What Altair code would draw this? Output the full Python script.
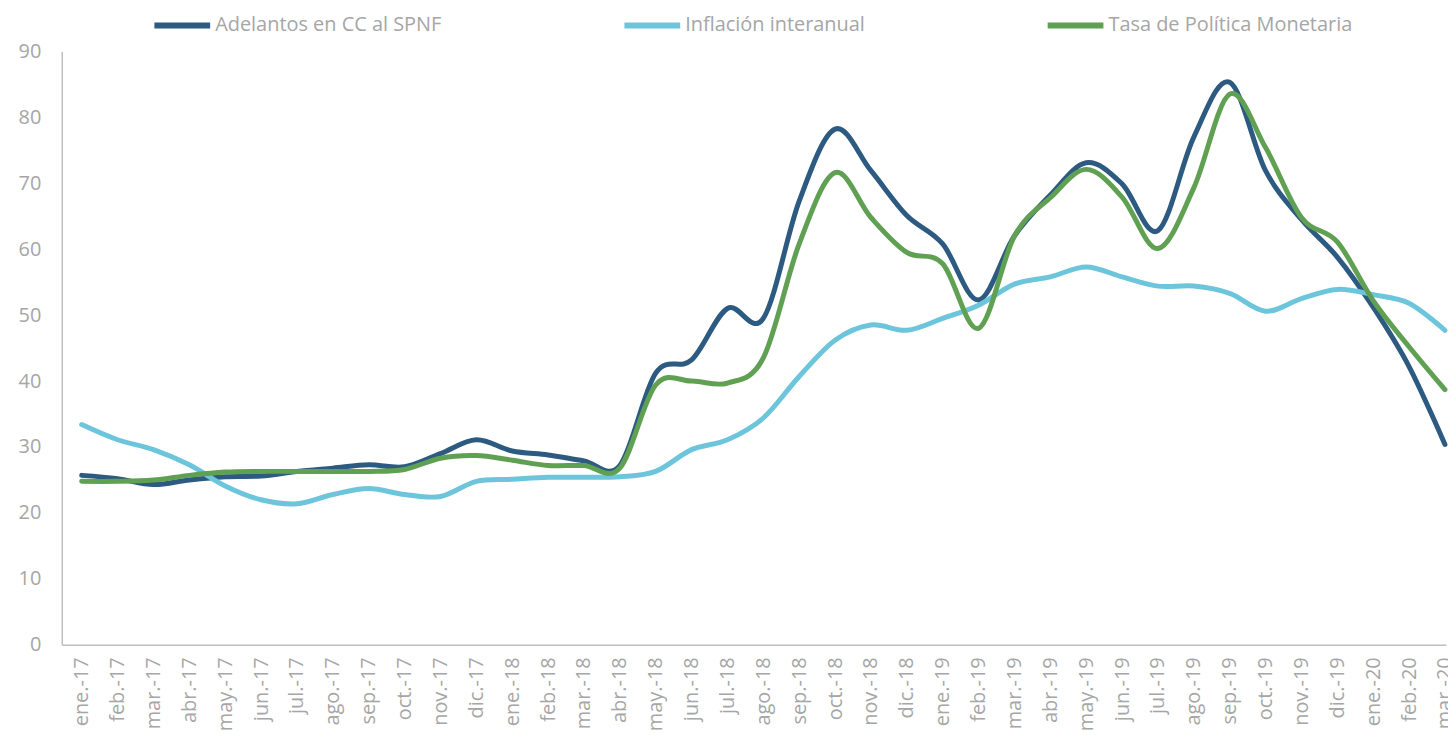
import altair as alt
import pandas as pd

meses = ["ene.-17", "feb.-17", "mar.-17", "abr.-17", "may.-17", "jun.-17", "jul.-17", "ago.-17",
         "sep.-17", "oct.-17", "nov.-17", "dic.-17",
         "ene.-18", "feb.-18", "mar.-18", "abr.-18", "may.-18", "jun.-18", "jul.-18", "ago.-18",
         "sep.-18", "oct.-18", "nov.-18", "dic.-18",
         "ene.-19", "feb.-19", "mar.-19", "abr.-19", "may.-19", "jun.-19", "jul.-19", "ago.-19",
         "sep.-19", "oct.-19", "nov.-19", "dic.-19",
         "ene.-20", "feb.-20", "mar.-20"]

adelantos = [25.7, 25.2, 24.3, 25.0, 25.5, 25.6, 26.3, 26.8, 27.3, 27.0, 29.0, 31.1,
             29.4, 28.8, 27.9, 27.2, 41.2, 43.2, 51.0, 49.5, 67.3, 78.2, 71.9, 65.1,
             60.8, 52.3, 62.0, 68.2, 73.1, 69.9, 62.8, 77.0, 85.3, 71.9, 64.5, 58.8,
             51.2, 42.2, 30.4]

inflacion = [33.4, 31.1, 29.6, 27.3, 24.1, 22.0, 21.4, 22.8, 23.7, 22.8, 22.5, 24.8,
             25.1, 25.4, 25.4, 25.5, 26.3, 29.6, 31.1, 34.4, 40.7, 46.2, 48.5, 47.7,
             49.5, 51.5, 54.7, 55.8, 57.3, 55.8, 54.4, 54.4, 53.3, 50.6, 52.5, 53.9,
             53.1, 51.8, 47.7]

tasa = [24.8, 24.8, 25.0, 25.7, 26.2, 26.3, 26.3, 26.3, 26.3, 26.6, 28.3, 28.7,
        28.0, 27.2, 27.2, 26.8, 39.4, 40.0, 39.7, 43.5, 60.8, 71.6, 64.8, 59.5,
        57.8, 48.0, 62.0, 67.8, 72.1, 67.9, 60.1, 69.3, 83.5, 75.4, 64.8, 61.1,
        52.2, 45.2, 38.7]

series = ["Adelantos en CC al SPNF", "Inflación interanual", "Tasa de Política Monetaria"]
colores = ["#2c5a80", "#6cc5db", "#60a052"]

rows = []
for nombre, valores in zip(series, [adelantos, inflacion, tasa]):
    for i, v in enumerate(valores):
        rows.append({"idx": i, "mes": meses[i], "serie": nombre, "valor": v})
df = pd.DataFrame(rows)

label_expr = "[" + ",".join("'" + m + "'" for m in meses) + "][datum.value]"
gris = "#a6a6a6"

chart = alt.Chart(df).mark_line(strokeWidth=5, interpolate="cardinal", strokeCap="round").encode(
    x=alt.X("idx:Q",
            scale=alt.Scale(domain=[-0.555, 38.03], nice=False, zero=False),
            axis=alt.Axis(title=None, values=list(range(len(meses))), labelExpr=label_expr,
                          labelAngle=270, labelPadding=12, labelOverlap=False, labelFlush=False,
                          ticks=False, grid=False, domainColor="#bfbfbf", domainWidth=1.5,
                          labelColor=gris, labelFontSize=20, labelFont="Open Sans")),
    y=alt.Y("valor:Q",
            scale=alt.Scale(domain=[0, 90], nice=False),
            axis=alt.Axis(title=None, values=list(range(0, 91, 10)), grid=False, ticks=False,
                          labelPadding=21, domainColor="#bfbfbf", domainWidth=1.5,
                          labelColor=gris, labelFontSize=20, labelFont="Open Sans")),
    color=alt.Color("serie:N",
                    scale=alt.Scale(domain=series, range=colores),
                    legend=alt.Legend(title=None, orient="none", legendX=90, legendY=-57,
                                      direction="horizontal", symbolType="stroke",
                                      symbolSize=3136, symbolStrokeWidth=6,
                                      labelFontSize=20, labelColor=gris, labelFont="Open Sans",
                                      columnPadding=171, labelOffset=2, labelLimit=500)),
    order=alt.Order("serie:N"),
).properties(
    width=1390, height=596,
    autosize=alt.AutoSizeParams(type="none"),
    padding={"left": 54, "top": 42, "right": 2, "bottom": 84},
).configure_view(stroke=None)

chart.save("out.html", embed_options={"renderer": "svg", "actions": False})
